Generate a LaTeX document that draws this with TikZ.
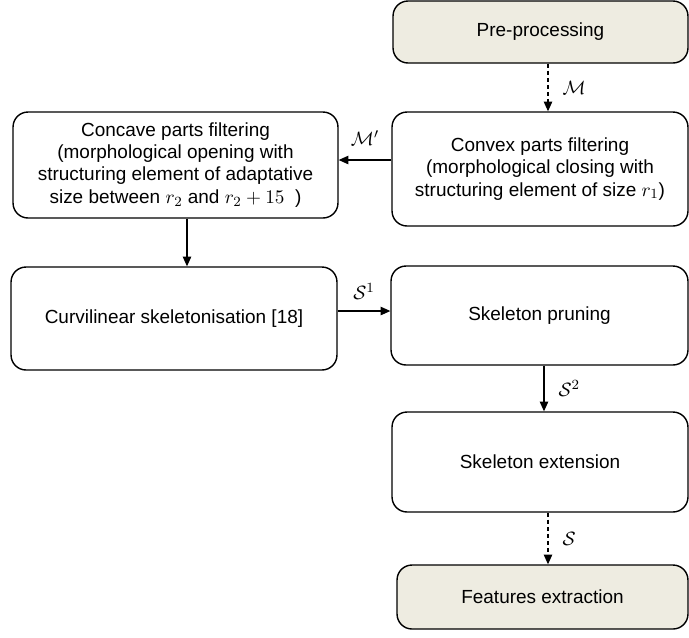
\documentclass[tikz,border=0pt]{standalone}
\usepackage[no-math]{fontspec}
\setmainfont{Liberation Sans}
\usetikzlibrary{calc,arrows.meta}
\definecolor{boxfill}{RGB}{238,236,225}

\begin{document}
\begin{tikzpicture}[x=0.02cm,y=-0.02cm]
\tikzstyle{block}=[draw=black,line width=0.8pt,rounded corners=0.3cm,align=center,inner sep=0pt,font=\fontsize{10.8}{12.6}\selectfont]
\tikzstyle{io}=[block,fill=boxfill]
\tikzstyle{arr}=[line width=0.6pt,-{Triangle[length=5.5pt,width=4.8pt]}]
\tikzstyle{dasharr}=[arr,dash pattern=on 2.5pt off 1.5pt]
\tikzstyle{lbl}=[inner sep=0pt,font=\fontsize{10.8}{12.6}\selectfont]

\useasboundingbox (0,0) rectangle (689,637);

\node[io,minimum width=5.90cm,minimum height=1.24cm] (pre) at (540.5,32) {Pre-processing};
\node[block,minimum width=5.92cm,minimum height=2.28cm] (convex) at (540,169) {Convex parts filtering\\(morphological closing with\\structuring element of size $r_1$)};
\node[block,minimum width=6.50cm,minimum height=2.12cm] (concave) at (175.5,165) {Concave parts filtering\\(morphological opening with\\structuring element of adaptative\\size between $r_2$ and $r_2+15$\hspace{6pt})};
\node[block,minimum width=6.52cm,minimum height=2.06cm] (curv) at (174,318.5) {Curvilinear skeletonisation [18]};
\node[block,minimum width=5.94cm,minimum height=1.98cm] (prune) at (539.5,315.5) {Skeleton pruning};
\node[block,minimum width=5.92cm,minimum height=2.00cm] (ext) at (540,462) {Skeleton extension};
\node[io,minimum width=5.82cm,minimum height=1.28cm] (feat) at (542.5,597) {Features extraction};

\coordinate (xr) at (548,0);
\coordinate (xm) at (544,0);
\coordinate (xl) at (187,0);
\coordinate (ys) at (0,311);

\draw[dasharr] (pre.south -| xr) -- (convex.north -| xr) node[lbl,midway,right=8pt] {$\mathcal{M}$};
\draw[arr] ($(convex.west)+(0,-9)$) -- ($(concave.east)+(0,-5)$) node[lbl,midway,above=8pt] {$\mathcal{M}'$};
\draw[arr] (concave.south -| xl) -- (curv.north -| xl);
\draw[arr] (curv.east |- ys) -- (prune.west |- ys) node[lbl,midway,above=6pt] {$\mathcal{S}^1$};
\draw[arr] (prune.south -| xm) -- (ext.north -| xm) node[lbl,midway,right=8pt] {$\mathcal{S}^2$};
\draw[dasharr] (ext.south -| xr) -- (feat.north -| xr) node[lbl,midway,right=8pt] {$\mathcal{S}$};
\end{tikzpicture}
\end{document}
